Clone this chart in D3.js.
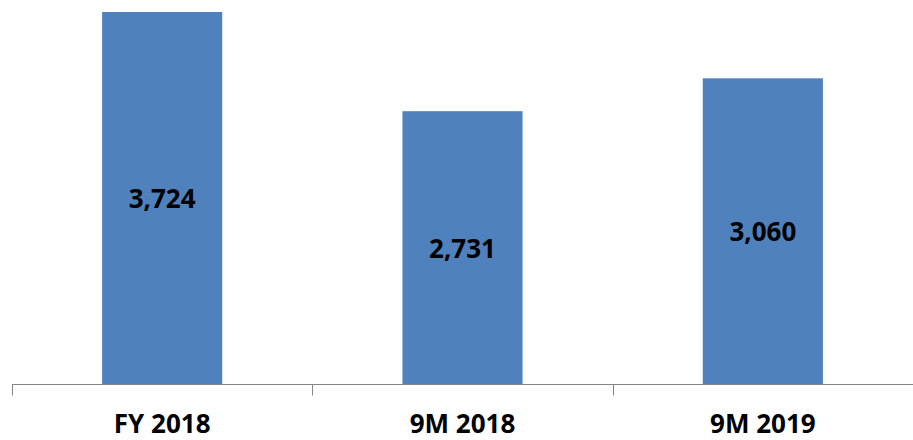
<!DOCTYPE html>
<html>
<head>
<meta charset="utf-8">
<script src="https://cdn.jsdelivr.net/npm/d3@7"></script>
<style>
  body { margin: 0; background: #fff; }
  svg text { font-family: "Open Sans", "Liberation Sans", sans-serif; font-weight: bold; fill: #000; }
</style>
</head>
<body>
<div id="chart"></div>
<script>
const categories = ['FY 2018', '9M 2018', '9M 2019'];
const values = [3724, 2731, 3060];

const width = 913;
const height = 440;
const margin = { top: 12, right: 0, bottom: 56, left: 12 };

const svg = d3.select('#chart')
    .append('svg')
    .attr('width', width)
    .attr('height', height);

const x = d3.scaleBand()
    .domain(categories)
    .range([margin.left, width - margin.right])
    .paddingInner(0.6)
    .paddingOuter(0.3);

// ticks sit between the bands
const step = (width - margin.right - margin.left) / categories.length;

const y = d3.scaleLinear()
    .domain([0, d3.max(values)])
    .range([height - margin.bottom, margin.top]);

const data = categories.map((c, i) => ({ key: c, value: values[i] }));

svg.append('g')
    .selectAll('rect')
    .data(data)
    .enter()
    .append('rect')
    .attr('x', d => x(d.key))
    .attr('y', d => y(d.value))
    .attr('width', x.bandwidth())
    .attr('height', d => y(0) - y(d.value))
    .attr('fill', '#4f81bd');

svg.append('g')
    .selectAll('text')
    .data(data)
    .enter()
    .append('text')
    .attr('x', d => x(d.key) + x.bandwidth() / 2)
    .attr('y', d => (y(d.value) + y(0)) / 2)
    .attr('text-anchor', 'middle')
    .attr('dominant-baseline', 'central')
    .style('font-size', '26px')
    .text(d => d3.format(',')(d.value));

const axisY = y(0) + 0.5;
const axis = svg.append('g');
axis.append('line')
    .attr('x1', margin.left)
    .attr('x2', width - margin.right)
    .attr('y1', axisY)
    .attr('y2', axisY)
    .attr('stroke', '#868686')
    .attr('stroke-width', 1);

axis.selectAll('.tick')
    .data(d3.range(categories.length + 1))
    .enter()
    .append('line')
    .attr('x1', i => Math.round(margin.left + i * step) + 0.5)
    .attr('x2', i => Math.round(margin.left + i * step) + 0.5)
    .attr('y1', axisY)
    .attr('y2', axisY + 11)
    .attr('stroke', '#868686')
    .attr('stroke-width', 1);

axis.selectAll('.label')
    .data(categories)
    .enter()
    .append('text')
    .attr('x', d => x(d) + x.bandwidth() / 2)
    .attr('y', 433)
    .attr('text-anchor', 'middle')
    .style('font-size', '26px')
    .text(d => d);
</script>
</body>
</html>
